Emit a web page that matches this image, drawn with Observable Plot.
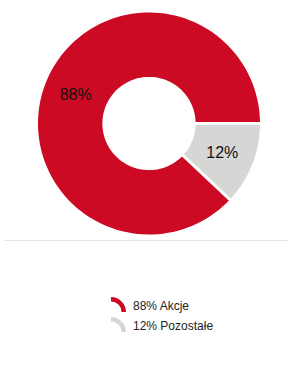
<!DOCTYPE html>
<html><head><meta charset="utf-8">
<script src="https://cdn.jsdelivr.net/npm/d3@7"></script>
<script src="https://cdn.jsdelivr.net/npm/@observablehq/plot@0.6"></script>
<style>
body{margin:0;background:#fff;font-family:"Liberation Sans",Arial,sans-serif;width:288px;height:390px;position:relative;overflow:hidden;}
#chart{position:absolute;left:0;top:0;}
#rule{position:absolute;left:4px;top:240px;width:284px;height:1px;background:#e4e4e4;}
#legend{position:absolute;left:111px;top:296px;}
.row{position:relative;height:20px;}
.row svg{position:absolute;left:0;top:0;}
.row span{position:absolute;left:22px;top:0;line-height:20px;font-size:12px;color:#222;white-space:nowrap;}
</style></head><body>
<div id="chart"></div><div id="rule"></div><div id="legend"></div>
<script>
const categories = ["Akcje", "Pozostałe"];
const shares = [88, 12];
const sliceLabels = ["88%", "12%"];
const legendLabels = ["88% Akcje", "12% Pozostałe"];

const palette = ["#cd0a23", "#d6d6d4"];
const innerRatio = 0.42;

const data = categories.map((name, i) => ({name, share: shares[i], label: sliceLabels[i]}));
const arcs = d3.pie().value(d => d.share).sort((a, b) => a.share - b.share)
  .startAngle(Math.PI / 2).endAngle(Math.PI / 2 + 2 * Math.PI)(data);

const pt = (a, r) => ({x: Math.sin(a) * r, y: Math.cos(a) * r});
const poly = [];
for (const a of arcs) {
  const n = 120;
  for (let k = 0; k <= n; k++) poly.push({name: a.data.name, ...pt(a.startAngle + (a.endAngle - a.startAngle) * k / n, 1)});
  for (let k = n; k >= 0; k--) poly.push({name: a.data.name, ...pt(a.startAngle + (a.endAngle - a.startAngle) * k / n, innerRatio)});
}
const seps = arcs.map(a => {
  const p0 = pt(a.startAngle, innerRatio - 0.05), p1 = pt(a.startAngle, 1.05);
  return {x1: p0.x, y1: p0.y, x2: p1.x, y2: p1.y};
});
const mid = (innerRatio + 1) / 2;
const labelPts = arcs.map(a => ({...pt((a.startAngle + a.endAngle) / 2, mid), label: a.data.label}));

const chart = Plot.plot({
  width: 288, height: 240,
  marginLeft: 37.5, marginRight: 28.5, marginTop: 12, marginBottom: 6,
  x: {domain: [-1, 1], axis: null},
  y: {domain: [-1, 1], axis: null},
  color: {domain: categories, range: palette},
  style: {background: "transparent", fontFamily: "Liberation Sans, Arial, sans-serif"},
  marks: [
    Plot.line(poly, {x: "x", y: "y", z: "name", fill: "name", stroke: "none", curve: "linear-closed"}),
    Plot.link(seps, {x1: "x1", y1: "y1", x2: "x2", y2: "y2", stroke: "white", strokeWidth: 3}),
    Plot.text(labelPts, {x: "x", y: "y", text: "label", fontSize: 16, fill: "#111"})
  ]
});
document.getElementById("chart").append(chart);

const legend = document.getElementById("legend");
const iconArc = d3.arc().innerRadius(10.5).outerRadius(15).startAngle(0).endAngle(Math.PI / 2);
categories.forEach((c, i) => {
  const row = document.createElement("div");
  row.className = "row";
  row.innerHTML = `<svg width="17" height="18"><path transform="translate(0,16)" d="${iconArc()}" fill="${palette[i]}"></path></svg><span>${legendLabels[i]}</span>`;
  legend.append(row);
});
</script>
</body></html>
